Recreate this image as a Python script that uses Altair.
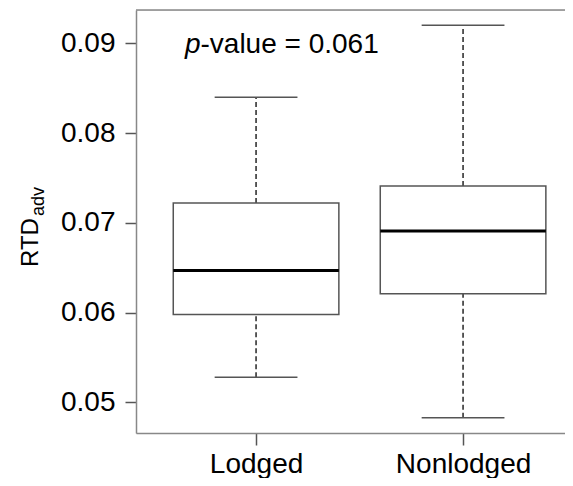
import altair as alt
import pandas as pd

groups = ["Lodged", "Nonlodged"]
positions = [1, 2]
lower = [0.0528, 0.0483]
q1 = [0.0598, 0.0621]
median = [0.0647, 0.0691]
q3 = [0.0722, 0.0741]
upper = [0.0840, 0.0920]

y_ticks = [0.05, 0.06, 0.07, 0.08, 0.09]
p_label = "0.061"

df = pd.DataFrame({"group": groups, "pos": positions, "lower": lower, "q1": q1,
                   "median": median, "q3": q3, "upper": upper})

W, H = 429, 423
FONT = "Liberation Sans"
xdom = [0.42, 0.42 + W / 207.0]
ydom = [0.04659, 0.09371]

label_expr = " : ".join(
    [f"datum.value == {p} ? '{g}'" for p, g in zip(positions, groups)]) + " : ''"

xs = alt.Scale(domain=xdom, nice=False, zero=False)
ys = alt.Scale(domain=ydom, nice=False, zero=False)

base = alt.Chart(df).transform_calculate(
    bx1="datum.pos - 0.4", bx2="datum.pos + 0.4",
    cx1="datum.pos - 0.2", cx2="datum.pos + 0.2")

xaxis = alt.Axis(values=positions, labelExpr=label_expr, title=None, grid=False,
                 labelFontSize=28, labelFont=FONT, labelColor="black",
                 tickSize=12, tickColor="#555", tickWidth=1.5,
                 domainColor="#888", domainWidth=1.5, labelPadding=5)
yaxis = alt.Axis(values=y_ticks, format=".2f", title=None, grid=False,
                 labelFontSize=28, labelFont=FONT, labelColor="black",
                 tickSize=11, tickColor="#555", tickWidth=1.5,
                 domainColor="#888", domainWidth=1.5, labelPadding=10)

whisk_hi = base.mark_rule(color="#333", strokeWidth=1.6, strokeDash=[5, 3]).encode(
    x=alt.X("pos:Q", scale=xs, axis=xaxis),
    y=alt.Y("q3:Q", scale=ys, axis=yaxis), y2="upper:Q")
whisk_lo = base.mark_rule(color="#333", strokeWidth=1.6, strokeDash=[5, 3]).encode(
    x=alt.X("pos:Q", scale=xs), y=alt.Y("lower:Q", scale=ys), y2="q1:Q")
cap_hi = base.mark_rule(color="#555", strokeWidth=1.5).encode(
    x=alt.X("cx1:Q", scale=xs), x2="cx2:Q", y=alt.Y("upper:Q", scale=ys))
cap_lo = base.mark_rule(color="#555", strokeWidth=1.5).encode(
    x=alt.X("cx1:Q", scale=xs), x2="cx2:Q", y=alt.Y("lower:Q", scale=ys))
box = base.mark_rect(fill="white", stroke="#555", strokeWidth=1.5).encode(
    x=alt.X("bx1:Q", scale=xs), x2="bx2:Q",
    y=alt.Y("q1:Q", scale=ys), y2="q3:Q")
med = base.mark_rule(color="black", strokeWidth=3).encode(
    x=alt.X("bx1:Q", scale=xs), x2="bx2:Q", y=alt.Y("median:Q", scale=ys))

top = alt.Chart(pd.DataFrame({"a": [0]})).mark_rule(color="#888", strokeWidth=1.5).encode(
    x=alt.value(0), x2=alt.value(W), y=alt.value(0))

txt = pd.DataFrame({"t": ["p", "-value = " + p_label, "RTD", "adv"]})
p_txt = alt.Chart(txt).transform_filter("datum.t == 'p'").mark_text(
    align="left", baseline="alphabetic", fontSize=28, font=FONT, fontStyle="italic",
    color="black").encode(x=alt.value(49), y=alt.value(43), text="t:N")
v_txt = alt.Chart(txt).transform_filter("indexof(datum.t, '-value') == 0").mark_text(
    align="left", baseline="alphabetic", fontSize=28, font=FONT,
    color="black").encode(x=alt.value(64.5), y=alt.value(43), text="t:N")
rtd = alt.Chart(txt).transform_filter("datum.t == 'RTD'").mark_text(
    align="left", baseline="alphabetic", fontSize=24, font=FONT, angle=270,
    color="black").encode(x=alt.value(-98.5), y=alt.value(257), text="t:N")
adv = alt.Chart(txt).transform_filter("datum.t == 'adv'").mark_text(
    align="left", baseline="alphabetic", fontSize=18, font=FONT, angle=270,
    color="black").encode(x=alt.value(-92), y=alt.value(206), text="t:N")

chart = alt.layer(whisk_hi, whisk_lo, cap_hi, cap_lo, box, med, top,
                  p_txt, v_txt, rtd, adv).properties(
    width=W, height=H,
    autosize=alt.AutoSizeParams(type="none"),
    padding={"left": 128, "top": 2, "right": 0, "bottom": 45},
).configure_view(stroke=None).configure(background="white")

chart.save("out.html", embed_options={"renderer": "svg", "actions": False})
